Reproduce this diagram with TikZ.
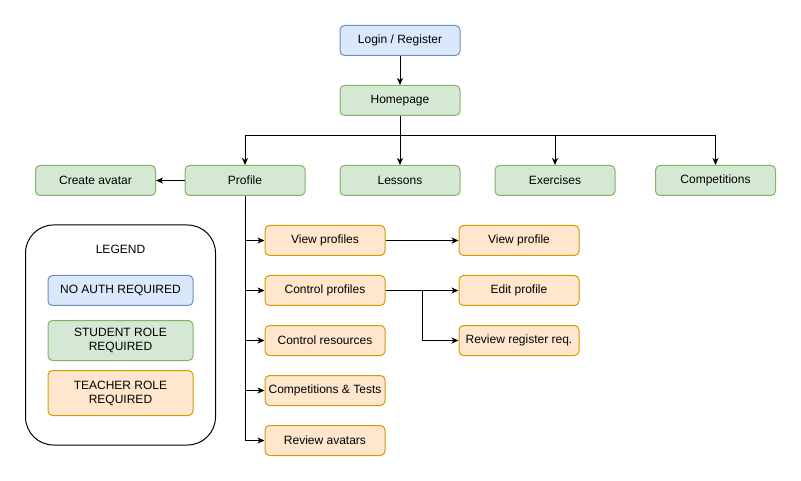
\documentclass[tikz,border=0pt]{standalone}
\usepackage{fontspec}
\setmainfont{Liberation Sans}
\usetikzlibrary{arrows.meta,calc}

\definecolor{blueFill}{HTML}{DAE8FC}
\definecolor{blueLine}{HTML}{6C8EBF}
\definecolor{greenFill}{HTML}{D5E8D4}
\definecolor{greenLine}{HTML}{82B366}
\definecolor{orangeFill}{HTML}{FFE6CC}
\definecolor{orangeLine}{HTML}{D79B00}

\tikzset{
  page/.style={draw, rounded corners=4.5pt, line width=1pt, minimum width=120pt,
    minimum height=30pt, inner sep=0pt, align=center,
    font=\fontsize{12}{14}\selectfont},
  noauth/.style={page, fill=blueFill, draw=blueLine},
  student/.style={page, fill=greenFill, draw=greenLine},
  teacher/.style={page, fill=orangeFill, draw=orangeLine},
  link/.style={line width=1pt, -{Stealth[length=7pt,width=6pt,inset=2pt]}}
}

\begin{document}
\begin{tikzpicture}[x=1pt,y=-1pt]

\useasboundingbox (0,0) rectangle (801,481);

%% The top of the site
\node [noauth]  (login)   at (400,40.5) {Login / Register};
\node [student] (home)    at (400,100.5) {Homepage};

%% The row of pages under the homepage
\node [student] (avatar)  at (95.5,180.5) {Create avatar};
\node [student] (profile) at (245,180.5) {Profile};
\node [student] (lessons) at (400,180.5) {Lessons};
\node [student] (exer)    at (555,180.5) {Exercises};
\node [student] (comp)    at (715.5,180.5) {Competitions};

%% The teacher pages
\node [teacher] (viewps)  at (325,240.5) {View profiles};
\node [teacher] (ctrlps)  at (325,290.5) {Control profiles};
\node [teacher] (ctrlres) at (325,340.5) {Control resources};
\node [teacher] (tests)   at (325,390.5) {Competitions \& Tests};
\node [teacher] (reviewav) at (325,440.5) {Review avatars};

\node [teacher] (viewp)   at (519,240.5) {View profile};
\node [teacher] (editp)   at (519,290.5) {Edit profile};
\node [teacher] (reviewreg) at (519,340.5) {Review register req.};

%% The arrows from the homepage
\draw [link] (login) -- (home);
\draw [link] (home) -- (lessons);
\draw [link] (home.south) -- ++(0,20) -| (profile.north);
\draw [link] (home.south) -- ++(0,20) -| (exer.north);
\draw [link] (home.south) -- ++(0,20) -| (comp.north);
\draw [link] (profile) -- (avatar);

%% The arrows from the profile
\foreach \p in {viewps,ctrlps,ctrlres,tests,reviewav}
  \draw [link] (profile.south) |- (\p.west);

\draw [link] (viewps) -- (viewp);
\draw [link] (ctrlps) -- (editp);
\coordinate (split) at ($(ctrlps.east)!0.5!(editp.west)$);
\draw [link] (split) |- (reviewreg.west);

%% The legend
\node [draw, line width=1pt, rounded corners=28pt, minimum width=190pt,
  minimum height=220pt, inner sep=0pt] (legend) at (120.5,335) {};
\node [font=\fontsize{12}{14}\selectfont] (legendtitle) at (120.5,249.5) {LEGEND};
\node [noauth, minimum width=145pt] (keyblue) at (120.5,290.5) {NO AUTH REQUIRED};
\node [student, minimum width=145pt, minimum height=40pt] (keygreen) at (120.5,340.5)
  {STUDENT ROLE\\REQUIRED};
\node [teacher, minimum width=145pt, minimum height=45pt] (keyorange) at (120.5,393)
  {TEACHER ROLE\\REQUIRED};

\end{tikzpicture}
\end{document}
